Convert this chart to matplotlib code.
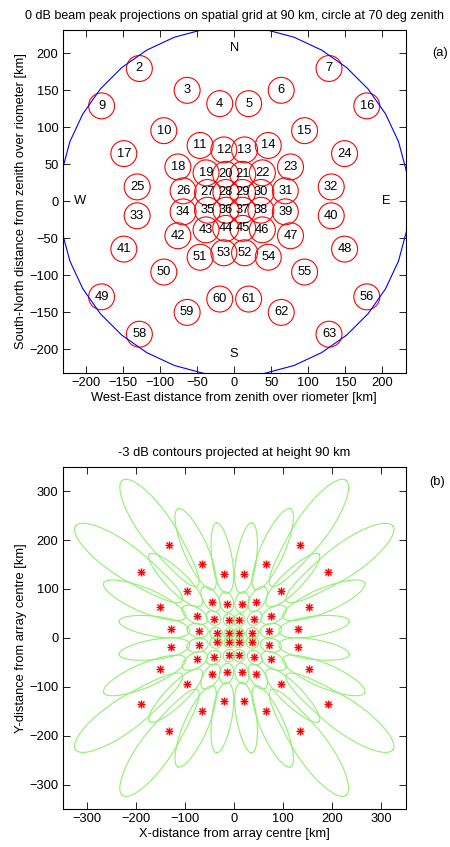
import numpy as np
import matplotlib.pyplot as plt
from matplotlib.patches import Circle

plt.rcParams['font.family'] = ['Liberation Sans', 'DejaVu Sans']
plt.rcParams['font.size'] = 9.3

h = 90.0          # projection height [km]
r_circle = 236.0  # 70 deg zenith circle on the grid [km]
r_beam = 17.5     # radius of the beam marker circles [km]

# (a) beam labels and peak positions [km], row by row (beams 1, 8, 57, 64 off grid)
lab_r1 = [2, 3, 4, 5, 6, 7]
xa_r1 = [-128, -63.5, -19.5, 19.5, 63.5, 128]
ya_r1 = [179.5, 150, 132, 132, 150, 179.5]
lab_r2 = [9, 10, 11, 12, 13, 14, 15, 16]
xa_r2 = [-179, -95, -46, -14, 14, 46, 95, 179]
ya_r2 = [129, 95.5, 75.5, 69.5, 69.5, 75.5, 95.5, 129]
lab_r3 = [17, 18, 19, 20, 21, 22, 23, 24]
xa_r3 = [-149, -76, -38, -11.5, 11.5, 38, 76, 149]
ya_r3 = [64.5, 46.5, 38.5, 36.5, 36.5, 38.5, 46.5, 64.5]
lab_r4 = [25, 26, 27, 28, 29, 30, 31, 32]
xa_r4 = [-131, -69, -36, -11.2, 11.2, 36, 69, 131]
ya_r4 = [19.5, 14.2, 12, 12, 12, 12, 14.2, 19.5]
lab_r5 = [33, 34, 35, 36, 37, 38, 39, 40]
xa_r5 = [-131, -69, -36, -11.2, 11.2, 36, 69, 131]
ya_r5 = [-19.5, -14.2, -12, -12, -12, -12, -14.2, -19.5]
lab_r6 = [41, 42, 43, 44, 45, 46, 47, 48]
xa_r6 = [-149, -76, -38, -11.5, 11.5, 38, 76, 149]
ya_r6 = [-64.5, -46.5, -38.5, -36.5, -36.5, -38.5, -46.5, -64.5]
lab_r7 = [49, 50, 51, 53, 52, 54, 55, 56]
xa_r7 = [-179, -95, -46, -14, 14, 46, 95, 179]
ya_r7 = [-129, -95.5, -75.5, -69.5, -69.5, -75.5, -95.5, -129]
lab_r8 = [58, 59, 60, 61, 62, 63]
xa_r8 = [-128, -63.5, -19.5, 19.5, 63.5, 128]
ya_r8 = [-179.5, -150, -132, -132, -150, -179.5]

# (b) beam peak positions on the flat 90 km plane [km]
xb_r1 = [-134, -65.5, -20, 20, 65.5, 134]
yb_r1 = [189.5, 150.5, 130, 130, 150.5, 189.5]
xb_r2 = [-190.5, -96, -45, -15, 15, 45, 96, 190.5]
yb_r2 = [134.5, 95, 74, 69.5, 69.5, 74, 95, 134.5]
xb_r3 = [-152, -75, -40.5, -10, 10, 40.5, 75, 152]
yb_r3 = [64, 44, 39, 35.5, 35.5, 39, 44, 64]
xb_r4 = [-130, -71, -36, -10, 10, 36, 71, 130]
yb_r4 = [19, 14.5, 9.2, 9.2, 9.2, 9.2, 14.5, 19]
xb_r5 = [-130, -71, -36, -10, 10, 36, 71, 130]
yb_r5 = [-19, -14.5, -9.2, -9.2, -9.2, -9.2, -14.5, -19]
xb_r6 = [-152, -75, -40.5, -10, 10, 40.5, 75, 152]
yb_r6 = [-64, -44, -39, -35.5, -35.5, -39, -44, -64]
xb_r7 = [-190.5, -96, -45, -15, 15, 45, 96, 190.5]
yb_r7 = [-134.5, -95, -74, -69.5, -69.5, -74, -95, -134.5]
xb_r8 = [-134, -65.5, -20, 20, 65.5, 134]
yb_r8 = [-189.5, -150.5, -130, -130, -150.5, -189.5]

# -3 dB half widths in direction cosine space (inner / tangential),
# outer side shrinks near the horizon
hw_in = 0.11
hw_tan = 0.12
hw_horizon = 0.63

labels = lab_r1 + lab_r2 + lab_r3 + lab_r4 + lab_r5 + lab_r6 + lab_r7 + lab_r8
xa = np.array(xa_r1 + xa_r2 + xa_r3 + xa_r4 + xa_r5 + xa_r6 + xa_r7 + xa_r8)
ya = np.array(ya_r1 + ya_r2 + ya_r3 + ya_r4 + ya_r5 + ya_r6 + ya_r7 + ya_r8)
xb = np.array(xb_r1 + xb_r2 + xb_r3 + xb_r4 + xb_r5 + xb_r6 + xb_r7 + xb_r8)
yb = np.array(yb_r1 + yb_r2 + yb_r3 + yb_r4 + yb_r5 + yb_r6 + yb_r7 + yb_r8)

fig = plt.figure(figsize=(4.5, 8.47), dpi=100)

# ---------------- (a)
ax = fig.add_axes([62.7/450, 1-372.7/847, 343/450, 342.7/847])
for lb, x, y in zip(labels, xa, ya):
    ax.add_patch(Circle((x, y), r_beam, fill=False, ec='red', lw=0.8))
    ax.text(x, y, str(lb), ha='center', va='center')
ang = np.radians(np.linspace(0, 360, 37))
ax.plot(r_circle*np.cos(ang), r_circle*np.sin(ang), color='blue', lw=0.8)
ax.text(0, 207, 'N', ha='center', va='center')
ax.text(0, -206, 'S', ha='center', va='center')
ax.text(-208, 0, 'W', ha='center', va='center')
ax.text(205, 0, 'E', ha='center', va='center')
ax.set_xlim(-231.5, 231.5)
ax.set_ylim(-231.5, 231.5)
ax.set_xticks(np.arange(-200, 201, 50))
ax.set_yticks(np.arange(-200, 201, 50))
ax.set_title('0 dB beam peak projections on spatial grid at 90 km, circle at 70 deg zenith',
             fontsize=9, pad=8)
ax.set_xlabel('West-East distance from zenith over riometer [km]', labelpad=2)
ax.set_ylabel('South-North distance from zenith over riometer [km]', labelpad=2)
fig.text(440/450, 1-53/847, '(a)', ha='center', va='center')

# ---------------- (b)
bx = fig.add_axes([62.7/450, 1-809/847, 343/450, 342.3/847])
t = np.linspace(0, 2*np.pi, 240)
for x, y in zip(xb, yb):
    rho = np.hypot(x, y)
    s0 = rho/np.sqrt(rho**2 + h**2)
    ph0 = np.arctan2(y, x)
    hw_out = min(hw_in, hw_horizon*(1 - s0))
    s = s0 + np.where(np.cos(t) > 0, hw_out, hw_in)*np.cos(t)
    q = hw_tan*np.sin(t)
    u = s*np.cos(ph0) - q*np.sin(ph0)
    v = s*np.sin(ph0) + q*np.cos(ph0)
    w = np.sqrt(1 - u**2 - v**2)
    bx.plot(h*u/w, h*v/w, color='#90f070', lw=0.8)
bx.plot(xb, yb, ls='none', marker='+', ms=6, mew=1.0, color='red')
bx.plot(xb, yb, ls='none', marker='x', ms=4, mew=1.0, color='red')
bx.set_xlim(-350, 350)
bx.set_ylim(-350, 350)
bx.set_xticks(np.arange(-300, 301, 100))
bx.set_yticks(np.arange(-300, 301, 100))
bx.set_title('-3 dB contours projected at height 90 km', fontsize=9.3, pad=8)
bx.set_xlabel('X-distance from array centre [km]', labelpad=2)
bx.set_ylabel('Y-distance from array centre [km]', labelpad=2)
fig.text(437/450, 1-481.7/847, '(b)', ha='center', va='center')

for a_ in (ax, bx):
    a_.tick_params(direction='in', length=5, width=0.6, top=True, right=True, pad=3)
    for s_ in a_.spines.values():
        s_.set_linewidth(0.8)

fig.savefig('out.png', dpi=100)
